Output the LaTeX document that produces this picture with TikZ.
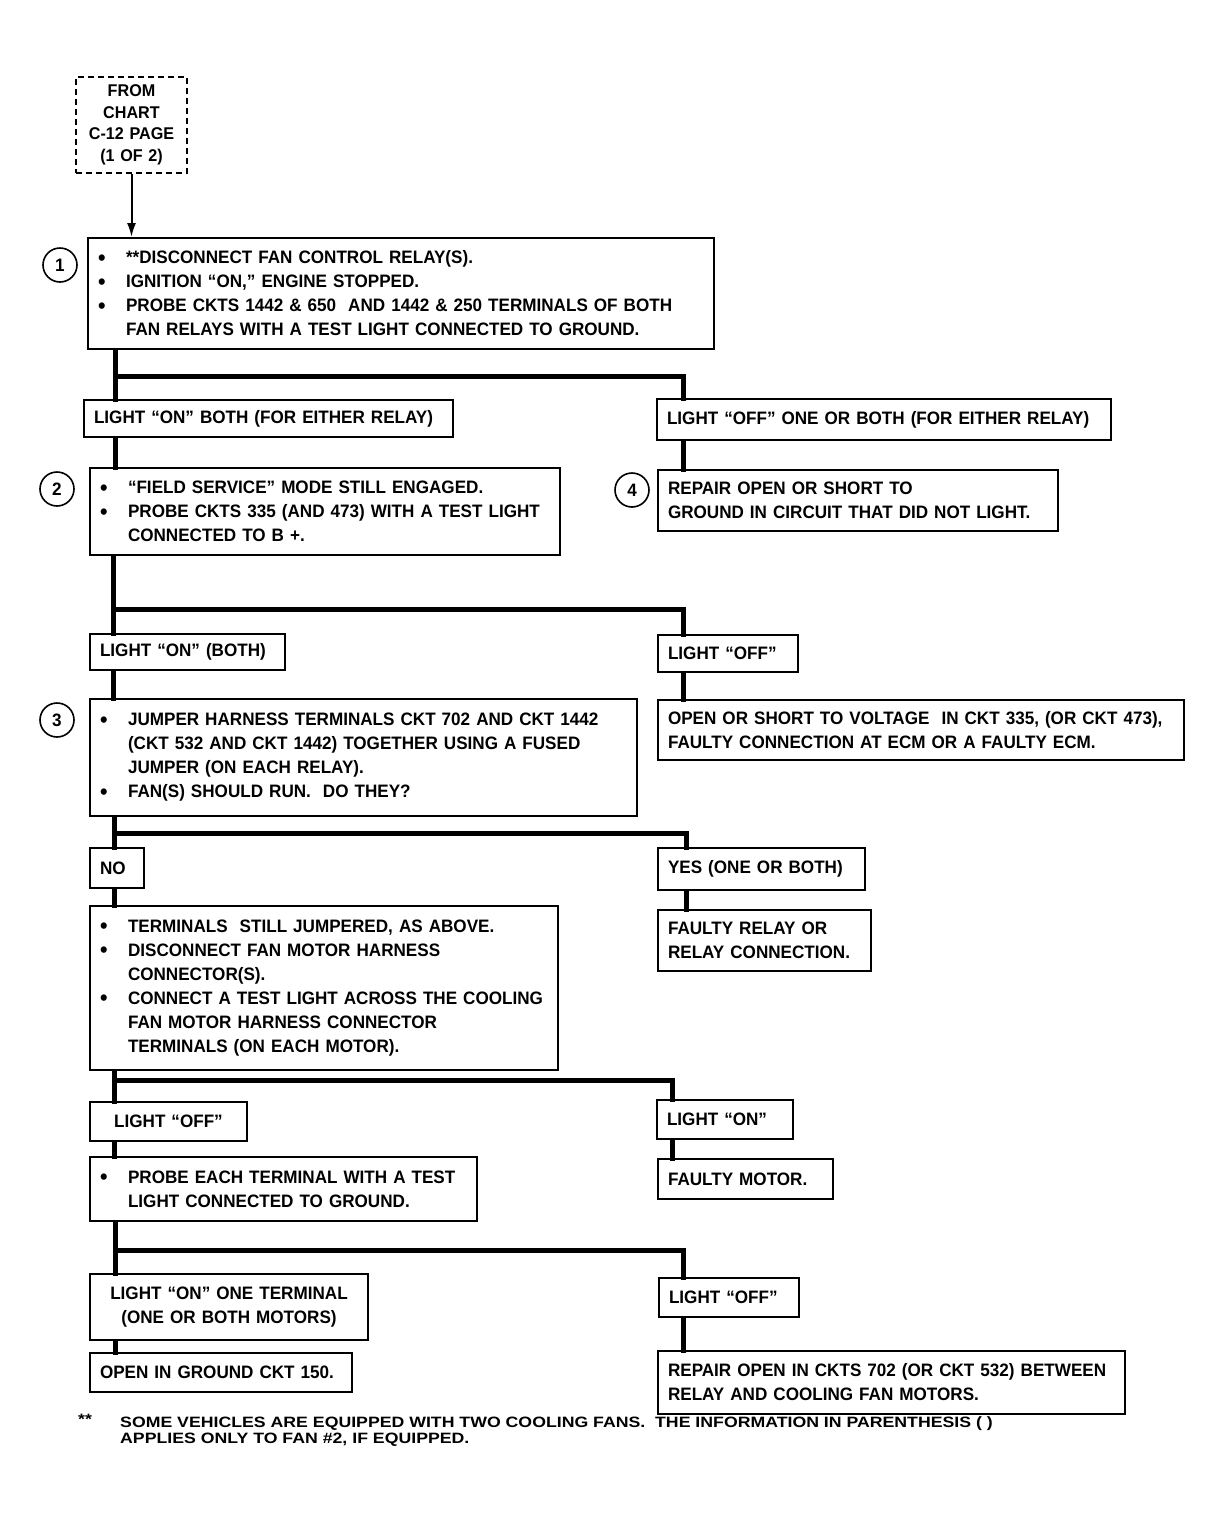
\documentclass[tikz,border=0pt]{standalone}
\usepackage{fontspec}
\setmainfont{Liberation Sans}[FakeStretch=0.95]
\newfontfamily\fnfont{Liberation Sans}[FakeStretch=1.18]
\usetikzlibrary{arrows.meta}
\newcommand{\bl}{\makebox[28pt][l]{\raisebox{-1.5pt}{\scalebox{1.25}{\textbullet}}}}
\newcommand{\ind}{\hspace*{28pt}}
\tikzset{
  box/.style={draw, line width=2pt, anchor=north west, inner xsep=10pt, inner ysep=0pt,
    align=left, font=\fontsize{18}{24}\selectfont\bfseries},
  cbox/.style={box, align=center},
  trunk/.style={line width=5pt, line join=miter, line cap=rect},
  numc/.style={draw, circle, line width=1.6pt, minimum size=34pt, inner sep=0pt,
    font=\fontsize{18}{18}\selectfont\bfseries},
}
\begin{document}
\begin{tikzpicture}[x=1pt,y=-1pt]
\useasboundingbox[fill=white] (0,0) rectangle (1221,1524);

% start box
\node[cbox, dashed, dash pattern=on 6pt off 4pt, text width=91pt, minimum height=96pt,
  font=\fontsize{17}{21.5}\selectfont\bfseries] (from) at (75,76) {FROM\\CHART\\C-12 PAGE\\(1 OF 2)};

% step 1
\node[box, text width=606pt, minimum height=111pt] (b1) at (87,237)
 {\bl **DISCONNECT FAN CONTROL RELAY(S).\\
  \bl IGNITION “ON,” ENGINE STOPPED.\\
  \bl PROBE CKTS 1442 \& 650\ \ AND 1442 \& 250 TERMINALS OF BOTH\\
  \ind FAN RELAYS WITH A TEST LIGHT CONNECTED TO GROUND.};
\node[numc] (c1) at (60,265) {1};

\node[box, text width=349pt, minimum height=37pt] (l1) at (83,399) {LIGHT “ON” BOTH (FOR EITHER RELAY)};
\node[box, text width=434pt, minimum height=41pt] (r1) at (656,398) {LIGHT “OFF” ONE OR BOTH (FOR EITHER RELAY)};

% step 2
\node[box, text width=450pt, minimum height=87pt] (b2) at (89,467)
 {\bl “FIELD SERVICE” MODE STILL ENGAGED.\\
  \bl PROBE CKTS 335 (AND 473) WITH A TEST LIGHT\\
  \ind CONNECTED TO B +.};
\node[numc] (c2) at (57,489) {2};

\node[box, text width=380pt, minimum height=61pt] (b4) at (657,469)
 {REPAIR OPEN OR SHORT TO\\GROUND IN CIRCUIT THAT DID NOT LIGHT.};
\node[numc] (c4) at (632,490) {4};

\node[box, text width=175pt, minimum height=36pt] (l2) at (89,633) {LIGHT “ON” (BOTH)};
\node[box, text width=120pt, minimum height=37pt] (r2) at (657,634) {LIGHT “OFF”};

% step 3
\node[box, text width=527pt, minimum height=117pt] (b3) at (89,698)
 {\bl JUMPER HARNESS TERMINALS CKT 702 AND CKT 1442\\
  \ind (CKT 532 AND CKT 1442) TOGETHER USING A FUSED\\
  \ind JUMPER (ON EACH RELAY).\\
  \bl FAN(S) SHOULD RUN.\ \ DO THEY?};
\node[numc] (c3) at (57,720) {3};

\node[box, text width=506pt, minimum height=60pt] (b3r) at (657,699)
 {OPEN OR SHORT TO VOLTAGE\ \ IN CKT 335, (OR CKT 473),\\FAULTY CONNECTION AT ECM OR A FAULTY ECM.};

\node[box, text width=34pt, minimum height=40pt] (no) at (89,847) {NO};
\node[box, text width=187pt, minimum height=42pt] (yes) at (657,847) {YES (ONE OR BOTH)};
\node[box, text width=193pt, minimum height=61pt] (fr) at (657,909) {FAULTY RELAY OR\\RELAY CONNECTION.};

% step 5
\node[box, text width=448pt, minimum height=164pt] (b5) at (89,905)
 {\bl TERMINALS\ \ STILL JUMPERED, AS ABOVE.\\
  \bl DISCONNECT FAN MOTOR HARNESS\\
  \ind CONNECTOR(S).\\
  \bl CONNECT A TEST LIGHT ACROSS THE COOLING\\
  \ind FAN MOTOR HARNESS CONNECTOR\\
  \ind TERMINALS (ON EACH MOTOR).};

\node[cbox, text width=137pt, minimum height=39pt] (l4) at (89,1101) {LIGHT “OFF”};
\node[box, text width=116pt, minimum height=39pt] (r4) at (656,1099) {LIGHT “ON”};
\node[box, text width=155pt, minimum height=40pt] (fm) at (657,1158) {FAULTY MOTOR.};

% step 6
\node[box, text width=367pt, minimum height=64pt] (b6) at (89,1156)
 {\bl PROBE EACH TERMINAL WITH A TEST\\
  \ind LIGHT CONNECTED TO GROUND.};

\node[cbox, text width=258pt, minimum height=66pt] (l5) at (89,1273) {LIGHT “ON” ONE TERMINAL\\(ONE OR BOTH MOTORS)};
\node[box, text width=242pt, minimum height=39pt] (og) at (89,1352) {OPEN IN GROUND CKT 150.};
\node[box, text width=120pt, minimum height=39pt] (r5) at (658,1277) {LIGHT “OFF”};
\node[box, text width=447pt, minimum height=63pt] (rp) at (657,1350)
 {REPAIR OPEN IN CKTS 702 (OR CKT 532) BETWEEN\\RELAY AND COOLING FAN MOTORS.};

% footnote
\node[anchor=north west, inner sep=0pt, font=\fnfont\fontsize{15}{15}\selectfont\bfseries] (fs) at (78,1414) {**};
\node[anchor=north west, inner sep=0pt, align=left, font=\fnfont\fontsize{15}{16}\selectfont\bfseries] (fn) at (120,1416)
 {SOME VEHICLES ARE EQUIPPED WITH TWO COOLING FANS.\ \ THE INFORMATION IN PARENTHESIS ( )\\
  APPLIES ONLY TO FAN \#2, IF EQUIPPED.};

% arrow
\draw[line width=2pt, -{Latex[length=14pt,width=9pt]}] (from.south) -- (b1.north -| from.south);

% trunks
\coordinate (j1) at (115,376); \coordinate (k1) at (683,376);
\draw[trunk] (b1.south -| j1) -- (l1.north -| j1);
\draw[trunk] (j1) -- (k1) -- (r1.north -| k1);
\draw[trunk] (l1.south -| j1) -- (b2.north -| j1);
\draw[trunk] (r1.south -| k1) -- (b4.north -| k1);

\coordinate (j2) at (113,609); \coordinate (k2) at (683,609);
\draw[trunk] (b2.south -| j2) -- (l2.north -| j2);
\draw[trunk] (j2) -- (k2) -- (r2.north -| k2);
\draw[trunk] (l2.south -| j2) -- (b3.north -| j2);
\draw[trunk] (r2.south -| k2) -- (b3r.north -| k2);

\coordinate (j3) at (114,833); \coordinate (k3) at (686,833);
\draw[trunk] (b3.south -| j3) -- (no.north -| j3);
\draw[trunk] (j3) -- (k3) -- (yes.north -| k3);
\draw[trunk] (no.south -| j3) -- (b5.north -| j3);
\draw[trunk] (yes.south -| k3) -- (fr.north -| k3);

\coordinate (j4) at (114,1080); \coordinate (k4) at (672,1080);
\draw[trunk] (b5.south -| j4) -- (l4.north -| j4);
\draw[trunk] (j4) -- (k4) -- (r4.north -| k4);
\draw[trunk] (l4.south -| j4) -- (b6.north -| j4);
\draw[trunk] (r4.south -| k4) -- (fm.north -| k4);

\coordinate (j5) at (115,1250); \coordinate (k5) at (683,1250);
\draw[trunk] (b6.south -| j5) -- (l5.north -| j5);
\draw[trunk] (j5) -- (k5) -- (r5.north -| k5);
\draw[trunk] (l5.south -| j5) -- (og.north -| j5);
\draw[trunk] (r5.south -| k5) -- (rp.north -| k5);
\end{tikzpicture}
\end{document}
